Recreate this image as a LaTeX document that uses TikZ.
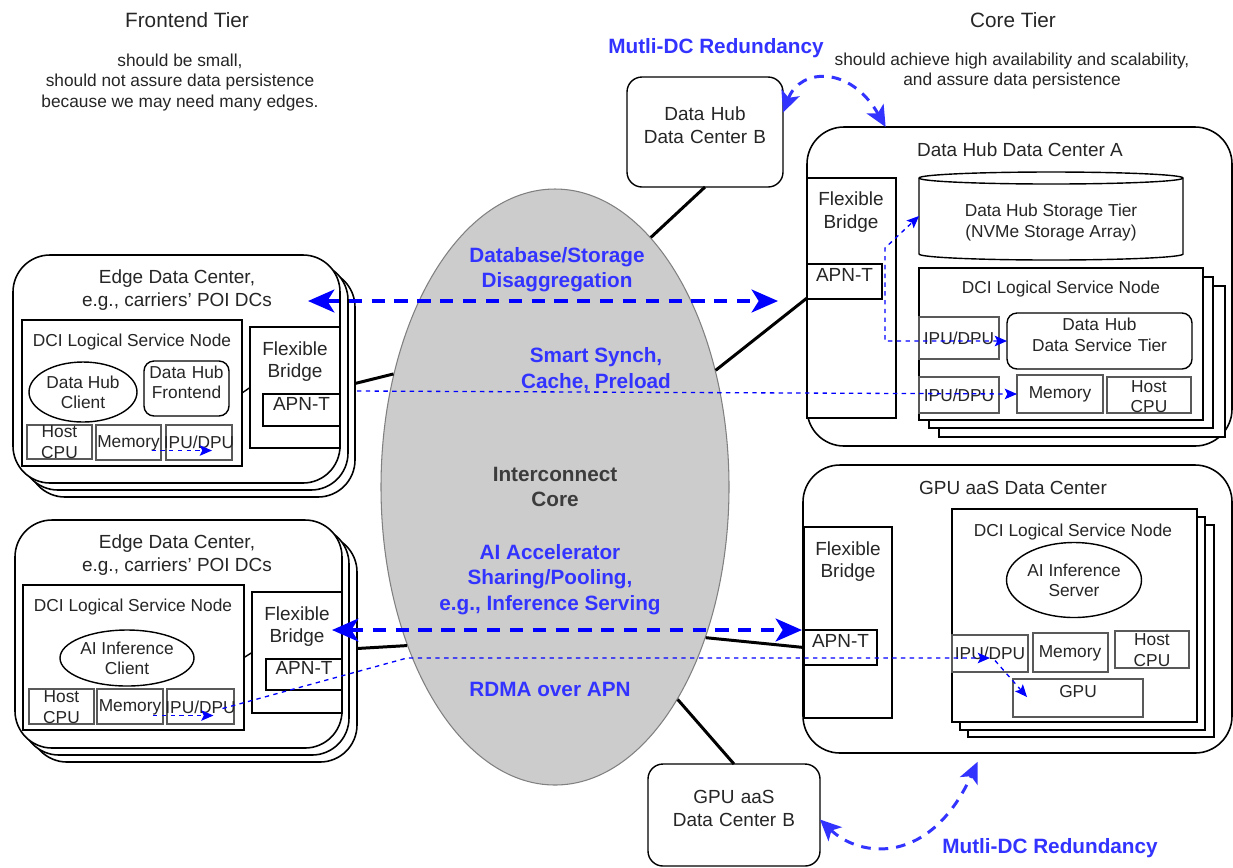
\documentclass[tikz,border=0pt]{standalone}
\usepackage{fontspec}
\setmainfont{Liberation Sans}
\usetikzlibrary{arrows.meta,shapes.geometric,fit,calc}

\definecolor{txt}{HTML}{262626}
\definecolor{lblue}{HTML}{3333FF}
\definecolor{corefill}{HTML}{CCCCCC}

\newcommand\fMain{\fontsize{10.8}{12.8}\selectfont}
\newcommand\fSmall{\fontsize{9.85}{11.6}\selectfont}
\newcommand\fBold{\fontsize{11.8}{14.4}\selectfont\bfseries}
\newcommand\fTier{\fontsize{11.8}{14}\selectfont}

\begin{document}
\begin{tikzpicture}[x=0.02cm, y=-0.02cm,
  box/.style={draw=black, line width=0.8pt, fill=white, inner sep=0pt, outer sep=0pt},
  dcbox/.style={box, line width=0.9pt, rounded corners=0.74cm},
  rbox/.style={box, rounded corners=0.2cm},
  hostbox/.style={box, rounded corners=0.3cm},
  part/.style={draw=black!65, line width=1.1pt, fill=white, inner sep=0pt, outer sep=0pt},
  oval/.style={box, ellipse},
  tx/.style={text=txt, inner sep=0pt, outer sep=0pt, align=center},
  mainf/.style={tx, font=\fMain},
  smallf/.style={tx, font=\fSmall},
  tierf/.style={tx, font=\fTier},
  bluef/.style={text=lblue, inner sep=0pt, align=center, font=\fBold},
  link/.style={draw=black, line width=1.7pt},
  tie/.style={draw=black, line width=0.8pt},
  flow/.style={draw=blue, line width=2.3pt, dash pattern=on 7.5pt off 5.5pt,
    arrows={Stealth[length=15pt,width=13pt,inset=4pt]-Stealth[length=15pt,width=13pt,inset=4pt]}},
  sync/.style={draw=blue, line width=0.75pt, dash pattern=on 2.5pt off 2.5pt},
  synca/.style={sync, -{Stealth[length=7pt,width=6pt,inset=1.5pt]}},
  syncb/.style={sync, {Stealth[length=7pt,width=6pt,inset=1.5pt]}-{Stealth[length=7pt,width=6pt,inset=1.5pt]}},
  redund/.style={draw=lblue, line width=1.7pt, dash pattern=on 5.5pt off 4.5pt,
    arrows={Stealth[length=12pt,width=11pt,inset=3pt]-Stealth[length=12pt,width=11pt,inset=3pt]}},
]
\useasboundingbox (0,0) rectangle (1233,867);
\fill[white] (0,0) rectangle (1233,867);

% ---------- tier headings ----------
\node[tierf] (ftier) at (187,20) {Frontend Tier};
\node[smallf] (fnote) at (180,82.5) {should be small,\\should not assure data persistence\\because we may need many edges.};
\node[tierf] (ctier) at (1013,20) {Core Tier};
\node[smallf] (cnote) at (1012,71) {should achieve high availability and scalability,\\and assure data persistence};

% ---------- interconnect core ----------
\node[ellipse, draw=black!50, fill=corefill, line width=0.6pt, minimum width=348*0.02cm,
      minimum height=596*0.02cm, inner sep=0pt, font=\fBold, text=txt!90, align=center]
      (core) at (555,487) {Interconnect\\Core};

% ---------- edge data center (data hub) ----------
\node[dcbox, fit={(28,270) (355,497)}] (e1c) {};
\node[dcbox, fit={(21,263) (348,490)}] (e1b) {};
\node[dcbox, fit={(13,255) (340,483)}] (e1) {};
\node[mainf] (e1t) at (177,290) {Edge Data Center,\\e.g., carriers' POI DCs};
\node[box, fit={(22,320) (242,466)}] (dci1) {};
\node[smallf] (dci1t) at (132,342) {DCI Logical Service Node};
\node[oval, minimum width=108*0.02cm, minimum height=60*0.02cm, font=\fSmall, text=txt, align=center] (cl1) at (83,392) {Data Hub\\Client};
\node[rbox, fit={(144,361) (229,416)}, font=\fSmall, text=txt, align=center] (fe1) {Data Hub\\Frontend};
\node[part, fit={(27,425) (92,459)}] (cpu1) {};
\node[smallf] (cpu1t) at (59.5,442) {Host\\CPU};
\node[part, fit={(96,425) (161,460)}] (mem1) {};
\node[smallf] (mem1t) at (128.5,443) {Memory};
\node[part, fit={(166,425) (232,460)}] (ipu1) {};
\node[smallf] (ipu1t) at (199,442) {IPU/DPU};
\node[box, fit={(250,327) (340,448)}] (fb1) {};
\node[mainf] (fb1t) at (295,361.5) {Flexible\\Bridge};
\node[box, fit={(263,394) (340,426)}, font=\fMain, text=txt] (apn1) {APN-T};
\draw[tie] (dci1.east) -- (fb1.west);

% ---------- edge data center (inference) ----------
\node[dcbox, fit={(30,535) (357,762)}] (e2c) {};
\node[dcbox, fit={(22,527) (349,755)}] (e2b) {};
\node[dcbox, fit={(15,520) (342,748)}] (e2) {};
\node[mainf] (e2t) at (177,555) {Edge Data Center,\\e.g., carriers' POI DCs};
\node[box, fit={(23,585) (244,730)}] (dci2) {};
\node[smallf] (dci2t) at (133,607) {DCI Logical Service Node};
\node[oval, minimum width=134*0.02cm, minimum height=56*0.02cm, font=\fSmall, text=txt, align=center] (cl2) at (127,658) {AI Inference\\Client};
\node[part, fit={(29,689) (94,724)}] (cpu2) {};
\node[smallf] (cpu2t) at (61.5,707) {Host\\CPU};
\node[part, fit={(97,689) (163,724)}] (mem2) {};
\node[smallf] (mem2t) at (130,707) {Memory};
\node[part, fit={(167,689) (234,724)}] (ipu2) {};
\node[smallf] (ipu2t) at (200.5,707) {IPU/DPU};
\node[box, fit={(252,592) (342,713)}] (fb2) {};
\node[mainf] (fb2t) at (297,626.5) {Flexible\\Bridge};
\node[box, fit={(266,659) (342,690)}, font=\fMain, text=txt] (apn2) {APN-T};
\draw[tie] (dci2.east) -- (fb2.west);

% ---------- data hub data center B ----------
\node[hostbox, fit={(627,77) (783,187)}, font=\fMain, text=txt, align=center] (dcb) {Data Hub\\Data Center B};

% ---------- data hub data center A ----------
\node[dcbox, fit={(807,127) (1232,446)}] (dca) {};
\node[mainf] (dcat) at (1020,150) {Data Hub Data Center A};
\node[box, fit={(807,178) (896,418)}] (fbA) {};
\node[mainf] (fbAt) at (851,212) {Flexible\\Bridge};
\node[box, fit={(807,264) (882,299)}, font=\fMain, text=txt] (apnA) {APN-T};
% storage cylinder
\draw[box] (919,178) -- (919,254)
  arc[start angle=180, end angle=360, x radius=132*0.02cm, y radius=6*0.02cm] -- (1183,178)
  arc[start angle=0, end angle=180, x radius=132*0.02cm, y radius=6*0.02cm] -- cycle;
\draw[draw=black, line width=0.8pt] (919,178)
  arc[start angle=180, end angle=360, x radius=132*0.02cm, y radius=6*0.02cm];
\node[inner sep=0pt, outer sep=0pt, fit={(919,172) (1183,260)}] (store) {};
\node[smallf] (storet) at (1051,222.5) {Data Hub Storage Tier\\(NVMe Storage Array)};
% logical service node stack
\node[box, fit={(939,286) (1225,437)}] (dciAc) {};
\node[box, fit={(929,277) (1213,428)}] (dciAb) {};
\node[box, fit={(919,268) (1203,420)}] (dciA) {};
\node[smallf] (dciAt) at (1061,289) {DCI Logical Service Node};
\node[part, fit={(919,317) (999,359)}] (ipuA1) {};
\node[smallf] (ipuA1t) at (959,338) {IPU/DPU};
\node[rbox, fit={(1007,313) (1192,369)}, font=\fSmall, text=txt, align=center] (svcA) {Data Hub\\Data Service Tier};
\node[part, fit={(919,377) (999,413)}] (ipuA2) {};
\node[smallf] (ipuA2t) at (959,395) {IPU/DPU};
\node[part, fit={(1017,375) (1103,413)}] (memA) {};
\node[smallf] (memAt) at (1060,394) {Memory};
\node[part, fit={(1107,377) (1191,413)}] (cpuA) {};
\node[smallf] (cpuAt) at (1149,396.5) {Host\\CPU};

% ---------- GPU aaS data center ----------
\node[dcbox, fit={(803,465) (1232,753)}] (gdc) {};
\node[mainf] (gdct) at (1013,488) {GPU aaS Data Center};
\node[box, fit={(804,527) (892,718)}] (fbG) {};
\node[mainf] (fbGt) at (848,561.5) {Flexible\\Bridge};
\node[box, fit={(804,630) (877,665)}, font=\fMain, text=txt] (apnG) {APN-T};
\node[box, fit={(968,525) (1214,737)}] (dciGc) {};
\node[box, fit={(960,517) (1205,730)}] (dciGb) {};
\node[box, fit={(952,509) (1197,722)}] (dciG) {};
\node[smallf] (dciGt) at (1073,532) {DCI Logical Service Node};
\node[oval, minimum width=135*0.02cm, minimum height=75*0.02cm, font=\fSmall, text=txt, align=center] (infG) at (1074,580) {AI Inference\\Server};
\node[part, fit={(952,635) (1028,672)}] (ipuG) {};
\node[smallf] (ipuGt) at (990,653) {IPU/DPU};
\node[part, fit={(1033,633) (1108,672)}] (memG) {};
\node[smallf] (memGt) at (1070,653) {Memory};
\node[part, fit={(1115,631) (1189,668)}] (cpuG) {};
\node[smallf] (cpuGt) at (1152,650) {Host\\CPU};
\node[part, fit={(1013,679) (1143,717)}, font=\fSmall, text=txt] (gpu) {GPU};

% ---------- GPU aaS data center B ----------
\node[hostbox, fit={(648,764) (820,866)}, font=\fMain, text=txt, align=center] (gdcb) {GPU aaS\\Data Center B};

% ---------- physical links to the interconnect core ----------
\draw[link] (e1c.east) -- (core.145);
\draw[link] (e2c.east) -- (core.227);
\draw[link] (dcb.south) -- (core.69);
\draw[link] (core.36) -- (fbA.west);
\draw[link] (core.315) -- (apnG.west);
\draw[link] (core.300) -- (gdcb.north);

% ---------- data paths ----------
\coordinate (ssL) at (357,391);
\draw[synca] (ssL) -- (memA.west);
\coordinate (rdmaK) at (407,658);
\draw[synca] ($(ipu2.center)+(22,2)$) -- (rdmaK) -- (ipuG.center |- rdmaK);
\draw[synca] ($(ipuG.center)+(5,7)$) -- ($(gpu.west)+(14,-1)$);
\draw[synca] ($(mem1.center)+(23,8)$) -- ($(ipu1.center)+(13,8)$);
\draw[synca] ($(mem2.center)+(23,9)$) -- ($(ipu2.center)+(13,9)$);
\draw[syncb] (svcA.west) -- ++(-122,0) -- ++(0,-93) -- (store.west);

% ---------- service flows across the core ----------
\coordinate (dbL) at (308,301);
\coordinate (dbR) at (778,301);
\draw[flow] (dbL) -- (dbR);
\coordinate (aiL) at (332,630);
\coordinate (aiR) at (802,630);
\draw[flow] (aiL) -- (aiR);

% ---------- multi-DC redundancy ----------
\draw[redund] (dcb.14) .. controls (800,68) and (850,65) .. (dca.130);
\draw[redund, shorten >=5.5pt] (gdcb.357) .. controls (860,858) and (930,866) .. (gdc.256);

% ---------- flow labels ----------
\node[bluef] (rdTop) at (716,48) {Mutli-DC Redundancy};
\node[bluef] (rdBot) at (1050,848) {Mutli-DC Redundancy};
\node[bluef] (dbLbl) at (557,270) {Database/Storage\\Disaggregation};
\node[bluef] (ssLbl) at (596,369.5) {Smart Synch,\\Cache, Preload};
\node[bluef] (aiLbl) at (550,579.5) {AI Accelerator\\Sharing/Pooling,\\e.g., Inference Serving};
\node[bluef] (rdmaLbl) at (550,689) {RDMA over APN};
\end{tikzpicture}
\end{document}
